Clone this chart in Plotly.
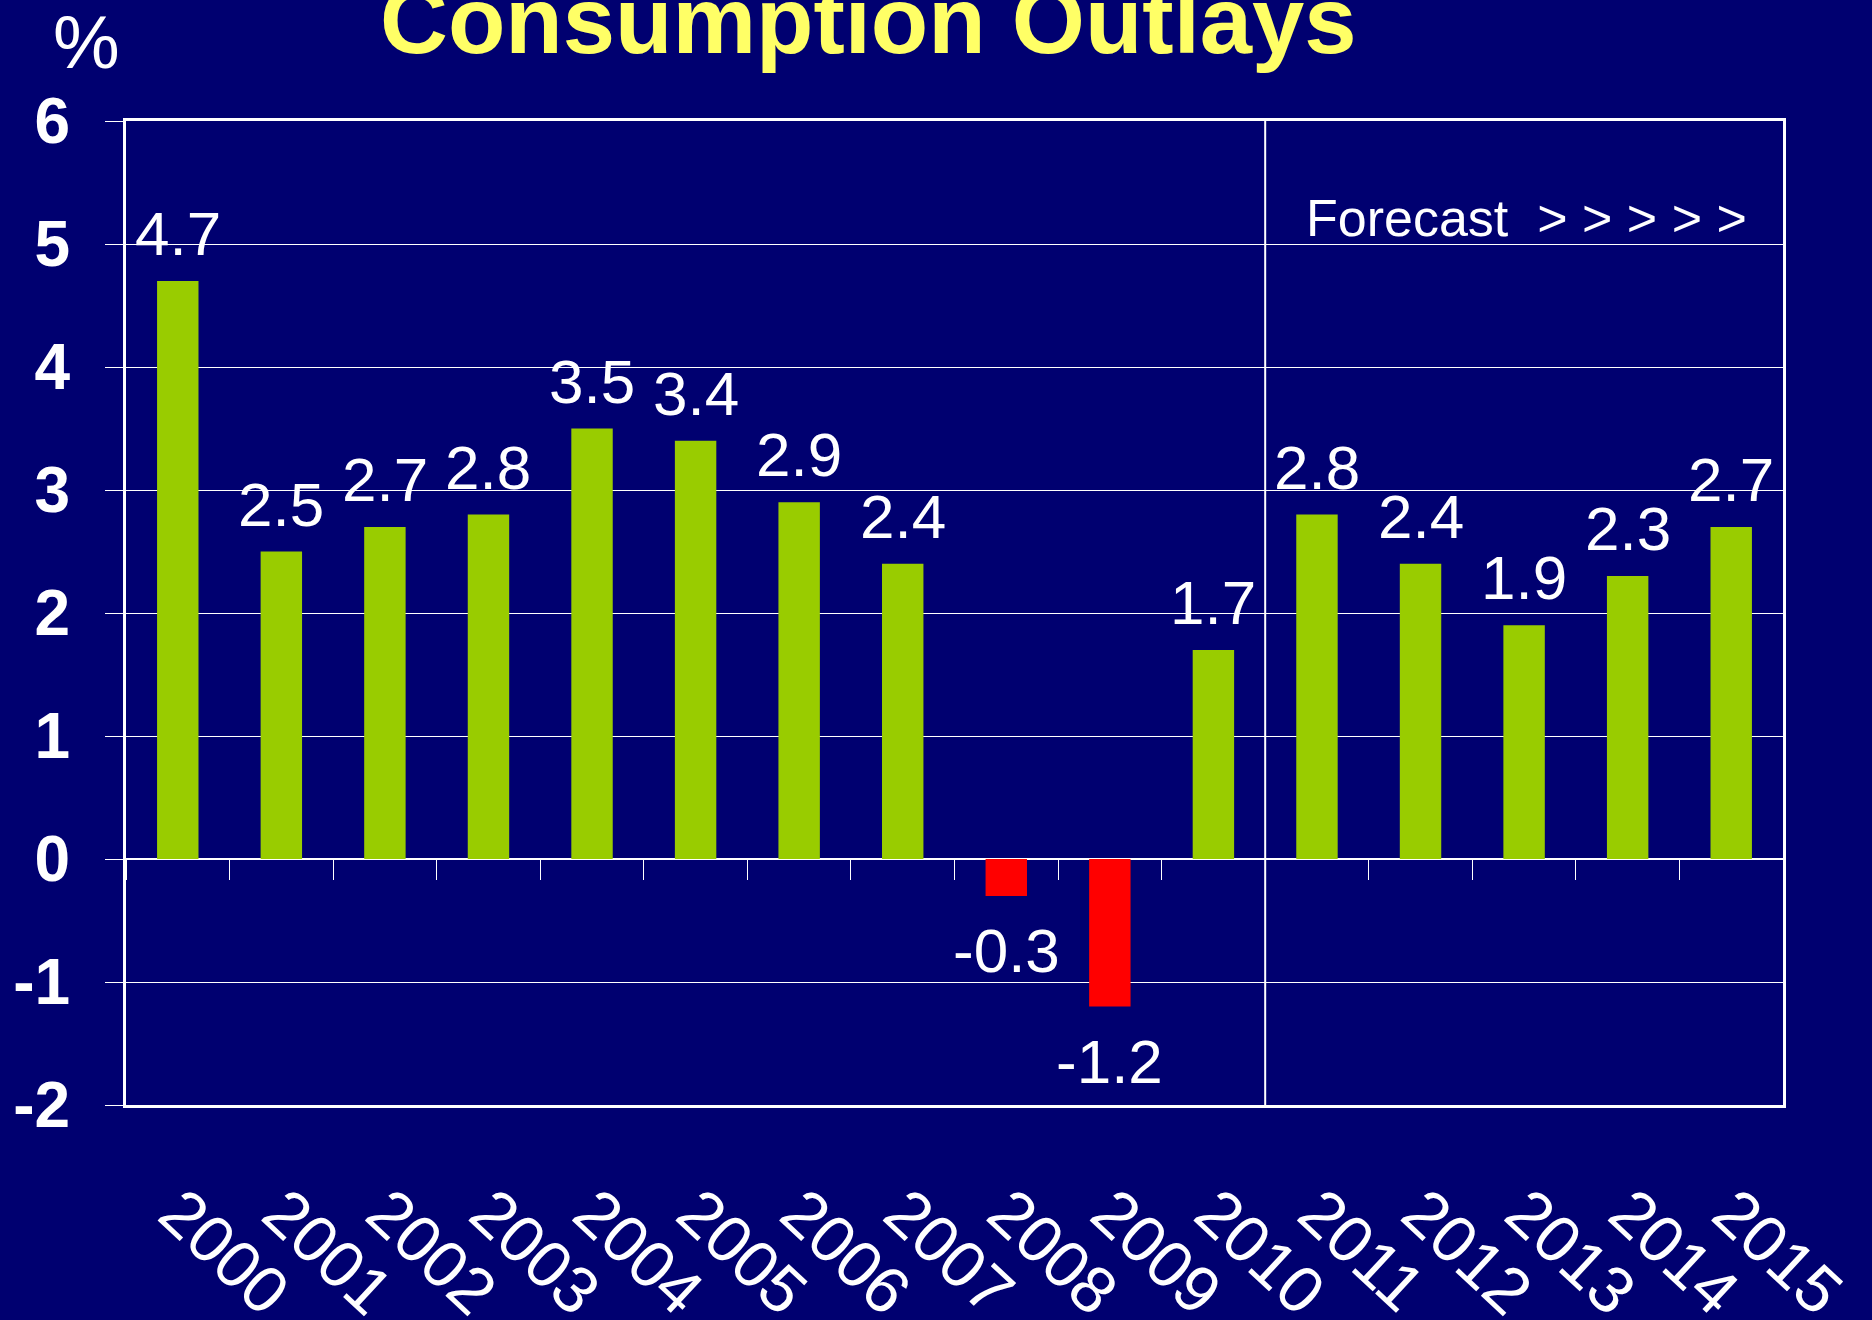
import plotly.graph_objects as go

# ---- data ----
years = [str(y) for y in range(2000, 2016)]
growth = [4.7, 2.5, 2.7, 2.8, 3.5, 3.4, 2.9, 2.4, -0.3, -1.2, 1.7, 2.8, 2.4, 1.9, 2.3, 2.7]
forecast_start = "2011"
y_ticks = [-2, -1, 0, 1, 2, 3, 4, 5, 6]
y_tick_labels = [str(v) for v in y_ticks]
title_text = "Consumption Outlays"
unit_text = "%"
forecast_text = "Forecast  > > > > >"

# ---- styles ----
BG = "#000070"
GREEN = "#99CC00"
RED = "#FF0000"
YELLOW = "#FFFF66"
FONT = "Liberation Sans, Arial, Helvetica, sans-serif"

colors = [GREEN if v >= 0 else RED for v in growth]
x_range = [-0.5, len(years) - 0.5]

fig = go.Figure()
fig.add_trace(go.Bar(x=years, y=growth, marker=dict(color=colors, line=dict(width=0)),
                     hoverinfo="skip", showlegend=False))
# invisible trace to host the zero-line tick axis
fig.add_trace(go.Scatter(x=years, y=growth, xaxis="x2", mode="markers",
                         marker=dict(opacity=0), hoverinfo="skip", showlegend=False))

annotations = []
for i, v in enumerate(growth):
    if v >= 0:
        annotations.append(dict(x=i, y=v, xref="x", yref="y", text=f"{v:.1f}", showarrow=False,
                                yanchor="bottom", yshift=11,
                                font=dict(size=62, color="white", family=FONT)))
    else:
        annotations.append(dict(x=i, y=v, xref="x", yref="y", text=f"{v:.1f}", showarrow=False,
                                yanchor="top", yshift=-18,
                                font=dict(size=62, color="white", family=FONT)))

annotations.append(dict(x=(868 - 126) / 1657, y=1.047, xref="paper", yref="paper", text=title_text,
                        showarrow=False, xanchor="center", yanchor="bottom",
                        font=dict(size=94, color=YELLOW, family=FONT, weight="bold")))
annotations.append(dict(x=-0.0241, y=1.08, xref="paper", yref="paper", text=unit_text,
                        showarrow=False, xanchor="center", yanchor="middle",
                        font=dict(size=75, color="white", family=FONT)))
annotations.append(dict(x=0.711, y=0.901, xref="paper", yref="paper", text=forecast_text,
                        showarrow=False, xanchor="left", yanchor="middle",
                        font=dict(size=52, color="white", family=FONT)))

divider_x = years.index(forecast_start) - 0.5

fig.update_layout(
    width=1872, height=1320,
    margin=dict(l=126, r=89, t=121, b=215, pad=0),
    paper_bgcolor=BG, plot_bgcolor=BG,
    showlegend=False, bargap=0.6,
    font=dict(family=FONT, color="white"),
    annotations=annotations,
    shapes=[dict(type="line", xref="x", yref="paper", x0=divider_x, x1=divider_x, y0=0, y1=1,
                 line=dict(color="white", width=2))],
    xaxis=dict(type="category", categoryorder="array", categoryarray=years, range=x_range,
               showgrid=False, zeroline=False, showline=True, mirror=True,
               linecolor="white", linewidth=3, ticks="", tickangle=43, automargin=False,
               tickfont=dict(size=66, color="white", family=FONT), ticklabelstandoff=40),
    xaxis2=dict(type="category", categoryorder="array", categoryarray=years, range=x_range,
                overlaying="x", anchor="free", position=0.25, side="bottom",
                ticks="outside", tickson="boundaries", ticklen=20, tickcolor="white", tickwidth=1,
                showticklabels=False, showgrid=False, showline=False, zeroline=False),
    yaxis=dict(range=[-2, 6], tickvals=y_ticks, ticktext=y_tick_labels, automargin=False,
               showgrid=True, gridcolor="white", gridwidth=1,
               zeroline=True, zerolinecolor="white", zerolinewidth=2,
               showline=True, mirror=True, linecolor="white", linewidth=3,
               ticks="outside", ticklen=18, tickcolor="white", tickwidth=1,
               tickfont=dict(size=64, color="white", family=FONT, weight="bold"),
               ticklabelstandoff=22),
)

fig.write_html("out.html", config={"displayModeBar": False},
               post_script="document.body.style.margin='0';document.body.style.overflow='hidden';")
